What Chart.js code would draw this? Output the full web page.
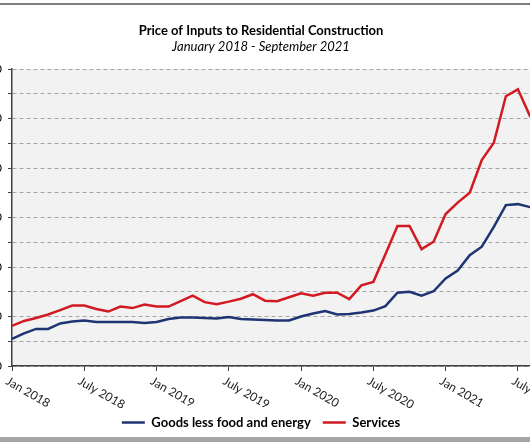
<!DOCTYPE html>
<html><head><meta charset="utf-8">
<script src="https://cdn.jsdelivr.net/npm/chart.js@4.4.0/dist/chart.umd.min.js"></script>
<style>
html,body{margin:0;padding:0;background:#fff;width:530px;height:442px;overflow:hidden;position:relative;}
#wrap{position:absolute;left:-23px;top:0;width:568px;height:442px;}
.frameTop{position:absolute;left:0;top:3px;width:530px;height:2px;background:#7f7f7f;}
.frameBot{position:absolute;left:0;top:437px;width:530px;height:5px;background:#a6a6a6;}
</style></head><body>
<div id="wrap"><canvas id="c"></canvas></div>
<div class="frameTop"></div><div class="frameBot"></div>
<script>
const categories = [
  "Jan 2018","Feb 2018","Mar 2018","Apr 2018","May 2018","June 2018","July 2018","Aug 2018","Sep 2018","Oct 2018","Nov 2018","Dec 2018",
  "Jan 2019","Feb 2019","Mar 2019","Apr 2019","May 2019","June 2019","July 2019","Aug 2019","Sep 2019","Oct 2019","Nov 2019","Dec 2019",
  "Jan 2020","Feb 2020","Mar 2020","Apr 2020","May 2020","June 2020","July 2020","Aug 2020","Sep 2020","Oct 2020","Nov 2020","Dec 2020",
  "Jan 2021","Feb 2021","Mar 2021","Apr 2021","May 2021","June 2021","July 2021","Aug 2021","Sep 2021"
];
const goods = [
  105.5,106.6,107.5,107.5,108.6,109.0,109.2,108.9,108.9,108.9,108.9,108.7,
  108.9,109.5,109.8,109.8,109.7,109.6,109.9,109.5,109.4,109.3,109.2,109.2,
  110.0,110.6,111.1,110.4,110.5,110.8,111.2,112.1,114.8,115.0,114.2,115.1,
  117.7,119.3,122.4,124.1,128.1,132.5,132.7,132.1,131.9
];
const services = [
  108.1,109.1,109.7,110.4,111.3,112.2,112.2,111.5,111.0,112.0,111.7,112.4,
  112.0,112.0,113.1,114.2,112.9,112.5,113.0,113.6,114.5,113.2,113.1,113.9,
  114.7,114.2,114.8,114.8,113.5,116.3,117.0,122.6,128.3,128.3,123.6,125.1,
  130.7,133.0,135.0,141.6,145.1,154.5,155.9,150.5,148.0
];
const tickLabels = ["Jan 2018","July 2018","Jan 2019","July 2019","Jan 2020","July 2020","Jan 2021","July 2021"];
const seriesNames = ["Goods less food and energy","Services"];
const titleText = "Price of Inputs to Residential Construction";
const subtitleText = "January 2018 - September 2021";

const AXIS = '#404040';

const plotBg = {
  id: 'plotBg',
  beforeDraw(chart) {
    const {ctx, chartArea: a} = chart;
    ctx.save();
    ctx.fillStyle = '#f2f2f2';
    ctx.fillRect(a.left, a.top, a.right - a.left, a.bottom - a.top);
    ctx.restore();
  }
};
const slantLabels = {
  id: 'slantLabels',
  afterDraw(chart) {
    const {ctx} = chart;
    const xs = chart.scales.x;
    const top = xs.top + 9;
    ctx.save();
    ctx.font = '12px Lato';
    ctx.fillStyle = '#1a1a1a';
    ctx.textAlign = 'left';
    ctx.textBaseline = 'top';
    tickLabels.forEach(lbl => {
      const i = categories.indexOf(lbl);
      const x = xs.getPixelForValue(i);
      ctx.save();
      ctx.translate(x - 2, top);
      ctx.rotate(30 * Math.PI / 180);
      ctx.fillText(lbl, 0, 0);
      ctx.restore();
    });
    ctx.restore();
  }
};

new Chart(document.getElementById('c'), {
  type: 'line',
  data: {
    labels: categories,
    datasets: [
      {label: seriesNames[0], data: goods, borderColor: '#1f3473', backgroundColor: '#1f3473', borderWidth: 2.5, pointRadius: 0, tension: 0},
      {label: seriesNames[1], data: services, borderColor: '#d11a22', backgroundColor: '#d11a22', borderWidth: 2.5, pointRadius: 0, tension: 0}
    ]
  },
  options: {
    responsive: true,
    maintainAspectRatio: false,
    animation: false,
    devicePixelRatio: 1,
    layout: {padding: {left: 0, right: 0, top: 0, bottom: 3}},
    plugins: {
      title: {display: true, text: titleText, color: '#000', font: {family: 'Lato', size: 13, weight: 'bold'}, padding: {top: 23, bottom: 0}},
      subtitle: {display: true, text: subtitleText, color: '#000', font: {family: 'Lato', size: 13, style: 'italic'}, padding: {top: 0, bottom: 14.8}},
      legend: {
        position: 'bottom',
        labels: {usePointStyle: true, pointStyle: 'line', pointStyleWidth: 23, padding: 12, color: '#000', font: {family: 'Lato', size: 13, weight: 'bold'}}
      },
      tooltip: {enabled: false}
    },
    scales: {
      x: {
        type: 'category',
        offset: false,
        afterFit: s => { s.height = 38; },
        grid: {display: true, drawOnChartArea: false, drawTicks: true, tickLength: 5, tickWidth: 1,
               tickColor: c => tickLabels.includes(categories[c.index]) ? AXIS : 'rgba(0,0,0,0)'},
        border: {display: true, color: AXIS, width: 1.5},
        ticks: {autoSkip: false, maxRotation: 0, minRotation: 0, callback: () => ''}
      },
      y: {
        min: 100, max: 160,
        afterFit: s => { s.width = 35; },
        grid: {color: '#a6a6a6', lineWidth: 1, tickLength: 4, tickColor: AXIS, tickWidth: 1},
        border: {display: true, color: AXIS, width: 1.5, dash: [4, 3]},
        ticks: {stepSize: 5, padding: 6, color: '#000', font: {family: 'Lato', size: 12},
                callback: v => (v % 10 === 0 ? String(v) : '')}
      }
    }
  },
  plugins: [plotBg, slantLabels]
});
</script>
</body></html>
